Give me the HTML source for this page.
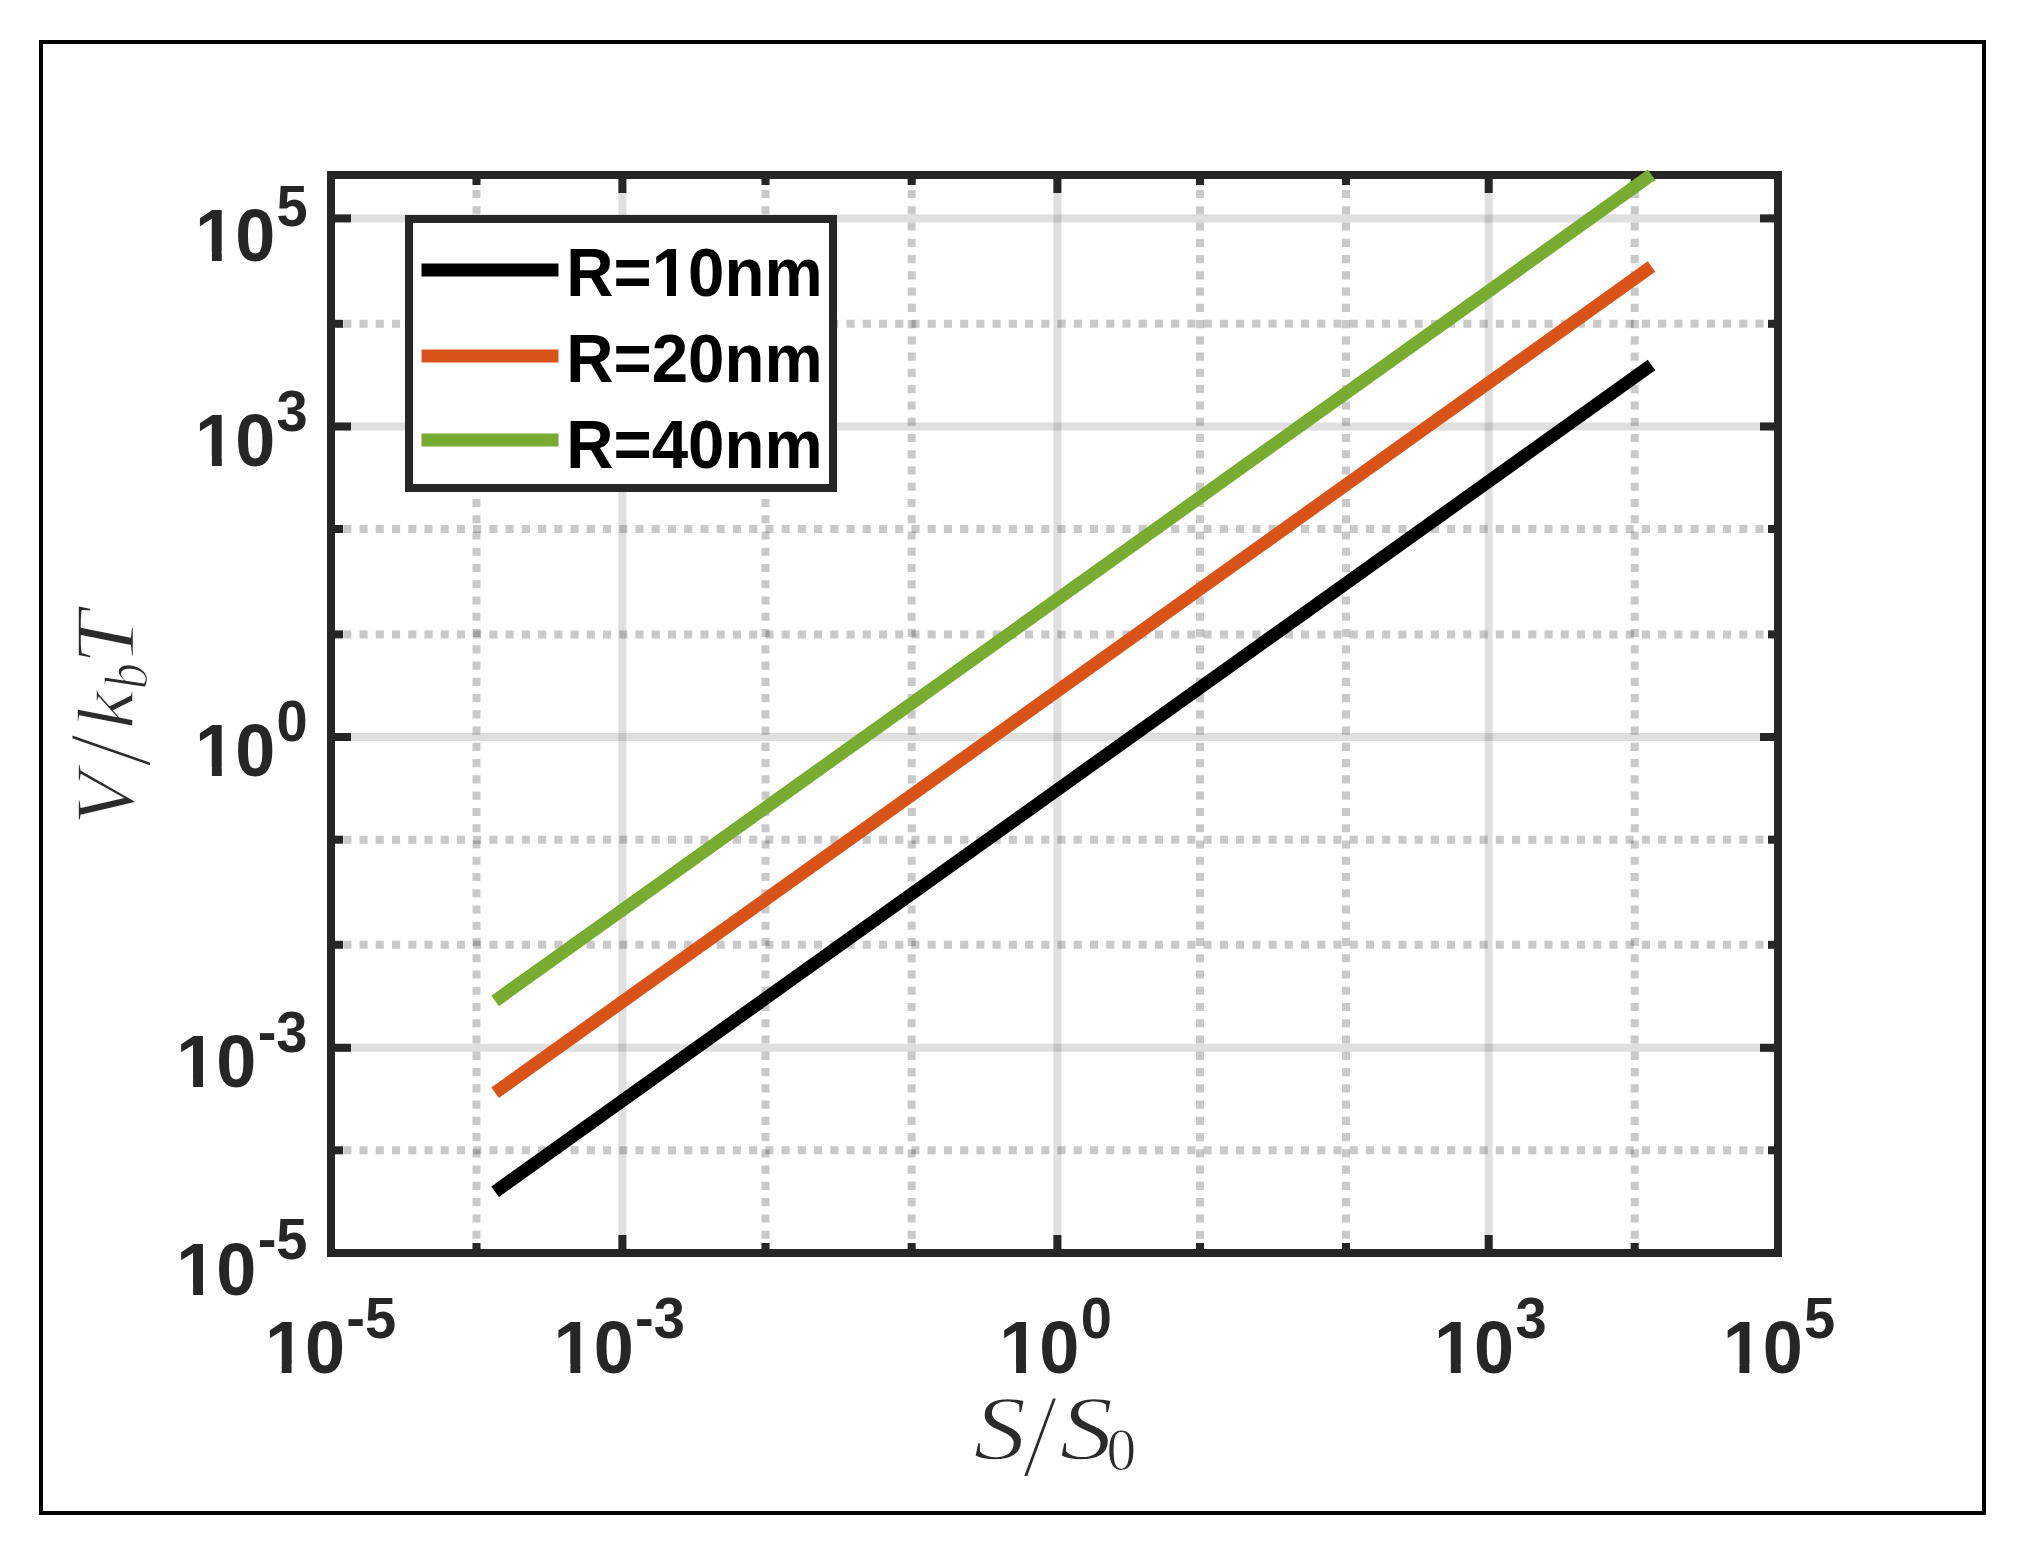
<!DOCTYPE html>
<html lang="en"><head><meta charset="utf-8"><title>V/kbT vs S/S0</title>
<style>html,body{margin:0;padding:0;background:#fff;}body{width:2024px;height:1550px;overflow:hidden;}svg{display:block;}.t{font-family:"Liberation Sans",Arial,sans-serif;font-weight:bold;fill:#262626;}.lg{font-family:"Liberation Sans",Arial,sans-serif;font-weight:bold;fill:#000;font-size:65.4px;}.m{font-family:"Liberation Serif","DejaVu Serif",serif;font-style:italic;fill:#2b2b2b;}.mr{font-family:"Liberation Serif","DejaVu Serif",serif;font-style:normal;fill:#2b2b2b;}</style></head><body>
<svg width="2024" height="1550" viewBox="0 0 2024 1550">
<rect x="0" y="0" width="2024" height="1550" fill="#fff"/>
<rect x="41" y="42" width="1943" height="1471" fill="none" stroke="#000" stroke-width="4"/>
<rect x="618.4" y="179" width="8" height="1070" fill="#262626" fill-opacity="0.15"/>
<rect x="1053.4" y="179" width="8" height="1070" fill="#262626" fill-opacity="0.15"/>
<rect x="1484.7" y="179" width="8" height="1070" fill="#262626" fill-opacity="0.15"/>
<rect x="335" y="214.4" width="1439" height="8" fill="#262626" fill-opacity="0.15"/>
<rect x="335" y="422.5" width="1439" height="8" fill="#262626" fill-opacity="0.15"/>
<rect x="335" y="733.0" width="1439" height="8" fill="#262626" fill-opacity="0.15"/>
<rect x="335" y="1043.8" width="1439" height="8" fill="#262626" fill-opacity="0.15"/>
<line x1="476.5" y1="179" x2="476.5" y2="1249" stroke="#262626" stroke-opacity="0.25" stroke-width="8" stroke-dasharray="8.1 8.16" stroke-dashoffset="-11.0"/>
<line x1="765.5" y1="179" x2="765.5" y2="1249" stroke="#262626" stroke-opacity="0.25" stroke-width="8" stroke-dasharray="8.1 8.16" stroke-dashoffset="-11.0"/>
<line x1="911.7" y1="179" x2="911.7" y2="1249" stroke="#262626" stroke-opacity="0.25" stroke-width="8" stroke-dasharray="8.1 8.16" stroke-dashoffset="-11.0"/>
<line x1="1200.0" y1="179" x2="1200.0" y2="1249" stroke="#262626" stroke-opacity="0.25" stroke-width="8" stroke-dasharray="8.1 8.16" stroke-dashoffset="-11.0"/>
<line x1="1346.0" y1="179" x2="1346.0" y2="1249" stroke="#262626" stroke-opacity="0.25" stroke-width="8" stroke-dasharray="8.1 8.16" stroke-dashoffset="-11.0"/>
<line x1="1634.7" y1="179" x2="1634.7" y2="1249" stroke="#262626" stroke-opacity="0.25" stroke-width="8" stroke-dasharray="8.1 8.16" stroke-dashoffset="-11.0"/>
<line x1="335" y1="323.8" x2="1774" y2="323.8" stroke="#262626" stroke-opacity="0.25" stroke-width="8" stroke-dasharray="8.1 8.132" stroke-dashoffset="-8.3"/>
<line x1="335" y1="529.0" x2="1774" y2="529.0" stroke="#262626" stroke-opacity="0.25" stroke-width="8" stroke-dasharray="8.1 8.132" stroke-dashoffset="-8.3"/>
<line x1="335" y1="634.4" x2="1774" y2="634.4" stroke="#262626" stroke-opacity="0.25" stroke-width="8" stroke-dasharray="8.1 8.132" stroke-dashoffset="-8.3"/>
<line x1="335" y1="839.7" x2="1774" y2="839.7" stroke="#262626" stroke-opacity="0.25" stroke-width="8" stroke-dasharray="8.1 8.132" stroke-dashoffset="-8.3"/>
<line x1="335" y1="944.8" x2="1774" y2="944.8" stroke="#262626" stroke-opacity="0.25" stroke-width="8" stroke-dasharray="8.1 8.132" stroke-dashoffset="-8.3"/>
<line x1="335" y1="1150.3" x2="1774" y2="1150.3" stroke="#262626" stroke-opacity="0.25" stroke-width="8" stroke-dasharray="8.1 8.132" stroke-dashoffset="-8.3"/>
<line x1="495.1" y1="1191.7" x2="1651.5" y2="365.0" stroke="#000000" stroke-width="12.9"/>
<line x1="495.1" y1="1092.7" x2="1651.5" y2="266.5" stroke="#d95319" stroke-width="12.9"/>
<rect x="331" y="175" width="1447" height="1078" fill="none" stroke="#262626" stroke-width="8"/>
<rect x="618.4" y="179" width="8" height="14" fill="#262626"/>
<rect x="618.4" y="1235" width="8" height="14" fill="#262626"/>
<rect x="1053.4" y="179" width="8" height="14" fill="#262626"/>
<rect x="1053.4" y="1235" width="8" height="14" fill="#262626"/>
<rect x="1484.7" y="179" width="8" height="14" fill="#262626"/>
<rect x="1484.7" y="1235" width="8" height="14" fill="#262626"/>
<rect x="472.5" y="179" width="8" height="6" fill="#262626"/>
<rect x="472.5" y="1243" width="8" height="6" fill="#262626"/>
<rect x="761.5" y="179" width="8" height="6" fill="#262626"/>
<rect x="761.5" y="1243" width="8" height="6" fill="#262626"/>
<rect x="907.7" y="179" width="8" height="6" fill="#262626"/>
<rect x="907.7" y="1243" width="8" height="6" fill="#262626"/>
<rect x="1196.0" y="179" width="8" height="6" fill="#262626"/>
<rect x="1196.0" y="1243" width="8" height="6" fill="#262626"/>
<rect x="1342.0" y="179" width="8" height="6" fill="#262626"/>
<rect x="1342.0" y="1243" width="8" height="6" fill="#262626"/>
<rect x="1630.7" y="179" width="8" height="6" fill="#262626"/>
<rect x="1630.7" y="1243" width="8" height="6" fill="#262626"/>
<rect x="335" y="214.4" width="16" height="8" fill="#262626"/>
<rect x="1760" y="214.4" width="14" height="8" fill="#262626"/>
<rect x="335" y="422.5" width="16" height="8" fill="#262626"/>
<rect x="1760" y="422.5" width="14" height="8" fill="#262626"/>
<rect x="335" y="733.0" width="16" height="8" fill="#262626"/>
<rect x="1760" y="733.0" width="14" height="8" fill="#262626"/>
<rect x="335" y="1043.8" width="16" height="8" fill="#262626"/>
<rect x="1760" y="1043.8" width="14" height="8" fill="#262626"/>
<rect x="335" y="319.8" width="8" height="8" fill="#262626"/>
<rect x="1768" y="319.8" width="6" height="8" fill="#262626"/>
<rect x="335" y="525.0" width="8" height="8" fill="#262626"/>
<rect x="1768" y="525.0" width="6" height="8" fill="#262626"/>
<rect x="335" y="630.4" width="8" height="8" fill="#262626"/>
<rect x="1768" y="630.4" width="6" height="8" fill="#262626"/>
<rect x="335" y="835.7" width="8" height="8" fill="#262626"/>
<rect x="1768" y="835.7" width="6" height="8" fill="#262626"/>
<rect x="335" y="940.8" width="8" height="8" fill="#262626"/>
<rect x="1768" y="940.8" width="6" height="8" fill="#262626"/>
<rect x="335" y="1146.3" width="8" height="8" fill="#262626"/>
<rect x="1768" y="1146.3" width="6" height="8" fill="#262626"/>
<line x1="495.1" y1="1000.9" x2="1651.5" y2="174.8" stroke="#77ac30" stroke-width="12.9"/>
<rect x="409" y="219" width="424" height="269" fill="#fff" stroke="#262626" stroke-width="8"/>
<rect x="421.5" y="263.5" width="137" height="13" fill="#000000"/>
<g transform="translate(570.7,295.5) scale(1.0,1.04)"><text class="lg" x="-4.4" y="0">R=10nm</text><rect x="83.64" y="-8.17" width="12.64" height="9.17" fill="#fff"/><rect x="105.26" y="-8.17" width="11.81" height="9.17" fill="#fff"/></g>
<rect x="421.5" y="349.5" width="137" height="13" fill="#d95319"/>
<g transform="translate(570.7,381.8) scale(1.0,1.04)"><text class="lg" x="-4.4" y="0">R=20nm</text></g>
<rect x="421.5" y="433.5" width="137" height="13" fill="#77ac30"/>
<g transform="translate(570.7,468.2) scale(1.0,1.04)"><text class="lg" x="-4.4" y="0">R=40nm</text></g>
<g transform="translate(199.70,260.6) scale(1.000,1.040)"><text class="t" x="-4.6" y="0" font-size="72">10<tspan x="76.8" dy="-33.7" font-size="56">5</tspan></text><rect x="-1.56" y="-8.85" width="13.77" height="9.85" fill="#fff"/><rect x="22.08" y="-8.85" width="12.86" height="9.85" fill="#fff"/></g>
<g transform="translate(199.70,465.6) scale(1.000,1.040)"><text class="t" x="-4.6" y="0" font-size="72">10<tspan x="76.8" dy="-33.7" font-size="56">3</tspan></text><rect x="-1.56" y="-8.85" width="13.77" height="9.85" fill="#fff"/><rect x="22.08" y="-8.85" width="12.86" height="9.85" fill="#fff"/></g>
<g transform="translate(199.70,776.1) scale(1.000,1.040)"><text class="t" x="-4.6" y="0" font-size="72">10<tspan x="76.8" dy="-33.7" font-size="56">0</tspan></text><rect x="-1.56" y="-8.85" width="13.77" height="9.85" fill="#fff"/><rect x="22.08" y="-8.85" width="12.86" height="9.85" fill="#fff"/></g>
<g transform="translate(180.90,1087.2) scale(1.000,1.040)"><text class="t" x="-4.6" y="0" font-size="72">10<tspan x="76.8" dy="-33.7" font-size="56">-3</tspan></text><rect x="-1.56" y="-8.85" width="13.77" height="9.85" fill="#fff"/><rect x="22.08" y="-8.85" width="12.86" height="9.85" fill="#fff"/></g>
<g transform="translate(180.90,1294.5) scale(1.000,1.040)"><text class="t" x="-4.6" y="0" font-size="72">10<tspan x="76.8" dy="-33.7" font-size="56">-5</tspan></text><rect x="-1.56" y="-8.85" width="13.77" height="9.85" fill="#fff"/><rect x="22.08" y="-8.85" width="12.86" height="9.85" fill="#fff"/></g>
<g transform="translate(269.50,1373.4) scale(1.000,1.040)"><text class="t" x="-4.6" y="0" font-size="72">10<tspan x="76.8" dy="-33.7" font-size="56">-5</tspan></text><rect x="-1.56" y="-8.85" width="13.77" height="9.85" fill="#fff"/><rect x="22.08" y="-8.85" width="12.86" height="9.85" fill="#fff"/></g>
<g transform="translate(558.20,1373.4) scale(1.000,1.040)"><text class="t" x="-4.6" y="0" font-size="72">10<tspan x="76.8" dy="-33.7" font-size="56">-3</tspan></text><rect x="-1.56" y="-8.85" width="13.77" height="9.85" fill="#fff"/><rect x="22.08" y="-8.85" width="12.86" height="9.85" fill="#fff"/></g>
<g transform="translate(1003.90,1373.4) scale(1.000,1.040)"><text class="t" x="-4.6" y="0" font-size="72">10<tspan x="76.8" dy="-33.7" font-size="56">0</tspan></text><rect x="-1.56" y="-8.85" width="13.77" height="9.85" fill="#fff"/><rect x="22.08" y="-8.85" width="12.86" height="9.85" fill="#fff"/></g>
<g transform="translate(1438.60,1373.4) scale(1.000,1.040)"><text class="t" x="-4.6" y="0" font-size="72">10<tspan x="76.8" dy="-33.7" font-size="56">3</tspan></text><rect x="-1.56" y="-8.85" width="13.77" height="9.85" fill="#fff"/><rect x="22.08" y="-8.85" width="12.86" height="9.85" fill="#fff"/></g>
<g transform="translate(1727.30,1373.4) scale(1.000,1.040)"><text class="t" x="-4.6" y="0" font-size="72">10<tspan x="76.8" dy="-33.7" font-size="56">5</tspan></text><rect x="-1.56" y="-8.85" width="13.77" height="9.85" fill="#fff"/><rect x="22.08" y="-8.85" width="12.86" height="9.85" fill="#fff"/></g>
<g aria-label="S/S0"><text class="m" font-size="86" stroke="#fff" stroke-width="1.6" vector-effect="non-scaling-stroke" transform="translate(973.48,1459.45) scale(1.225,1.048)">S</text><text class="m" font-size="86" stroke="#fff" stroke-width="1.6" vector-effect="non-scaling-stroke" transform="translate(1026.94,1475.91) scale(0.985,1.388)">/</text><text class="m" font-size="86" stroke="#fff" stroke-width="1.6" vector-effect="non-scaling-stroke" transform="translate(1059.45,1459.45) scale(1.247,1.048)">S</text><text class="mr" font-size="60" stroke="#fff" stroke-width="1.0" vector-effect="non-scaling-stroke" transform="translate(1106.52,1470.30) scale(0.992,1.038)">0</text></g>
<g aria-label="V/kbT" transform="translate(132.5,820) rotate(-90)"><text class="m" font-size="84" stroke="#fff" stroke-width="1.6" vector-effect="non-scaling-stroke" transform="translate(-5.27,1.79) scale(1.033,1.012)">V</text><text class="m" font-size="86" stroke="#fff" stroke-width="1.6" vector-effect="non-scaling-stroke" transform="translate(57.32,17.83) scale(0.929,1.369)">/</text><text class="m" font-size="84" stroke="#fff" stroke-width="1.6" vector-effect="non-scaling-stroke" transform="translate(91.08,0.90) scale(1.040,0.946)">k</text><text class="m" font-size="58" stroke="#fff" stroke-width="1.2" vector-effect="non-scaling-stroke" transform="translate(130.80,14.00) scale(0.900,1.045)">b</text><text class="m" font-size="84" stroke="#fff" stroke-width="1.6" vector-effect="non-scaling-stroke" transform="translate(155.21,1.61) scale(1.148,1.011)">T</text></g>
</svg></body></html>
